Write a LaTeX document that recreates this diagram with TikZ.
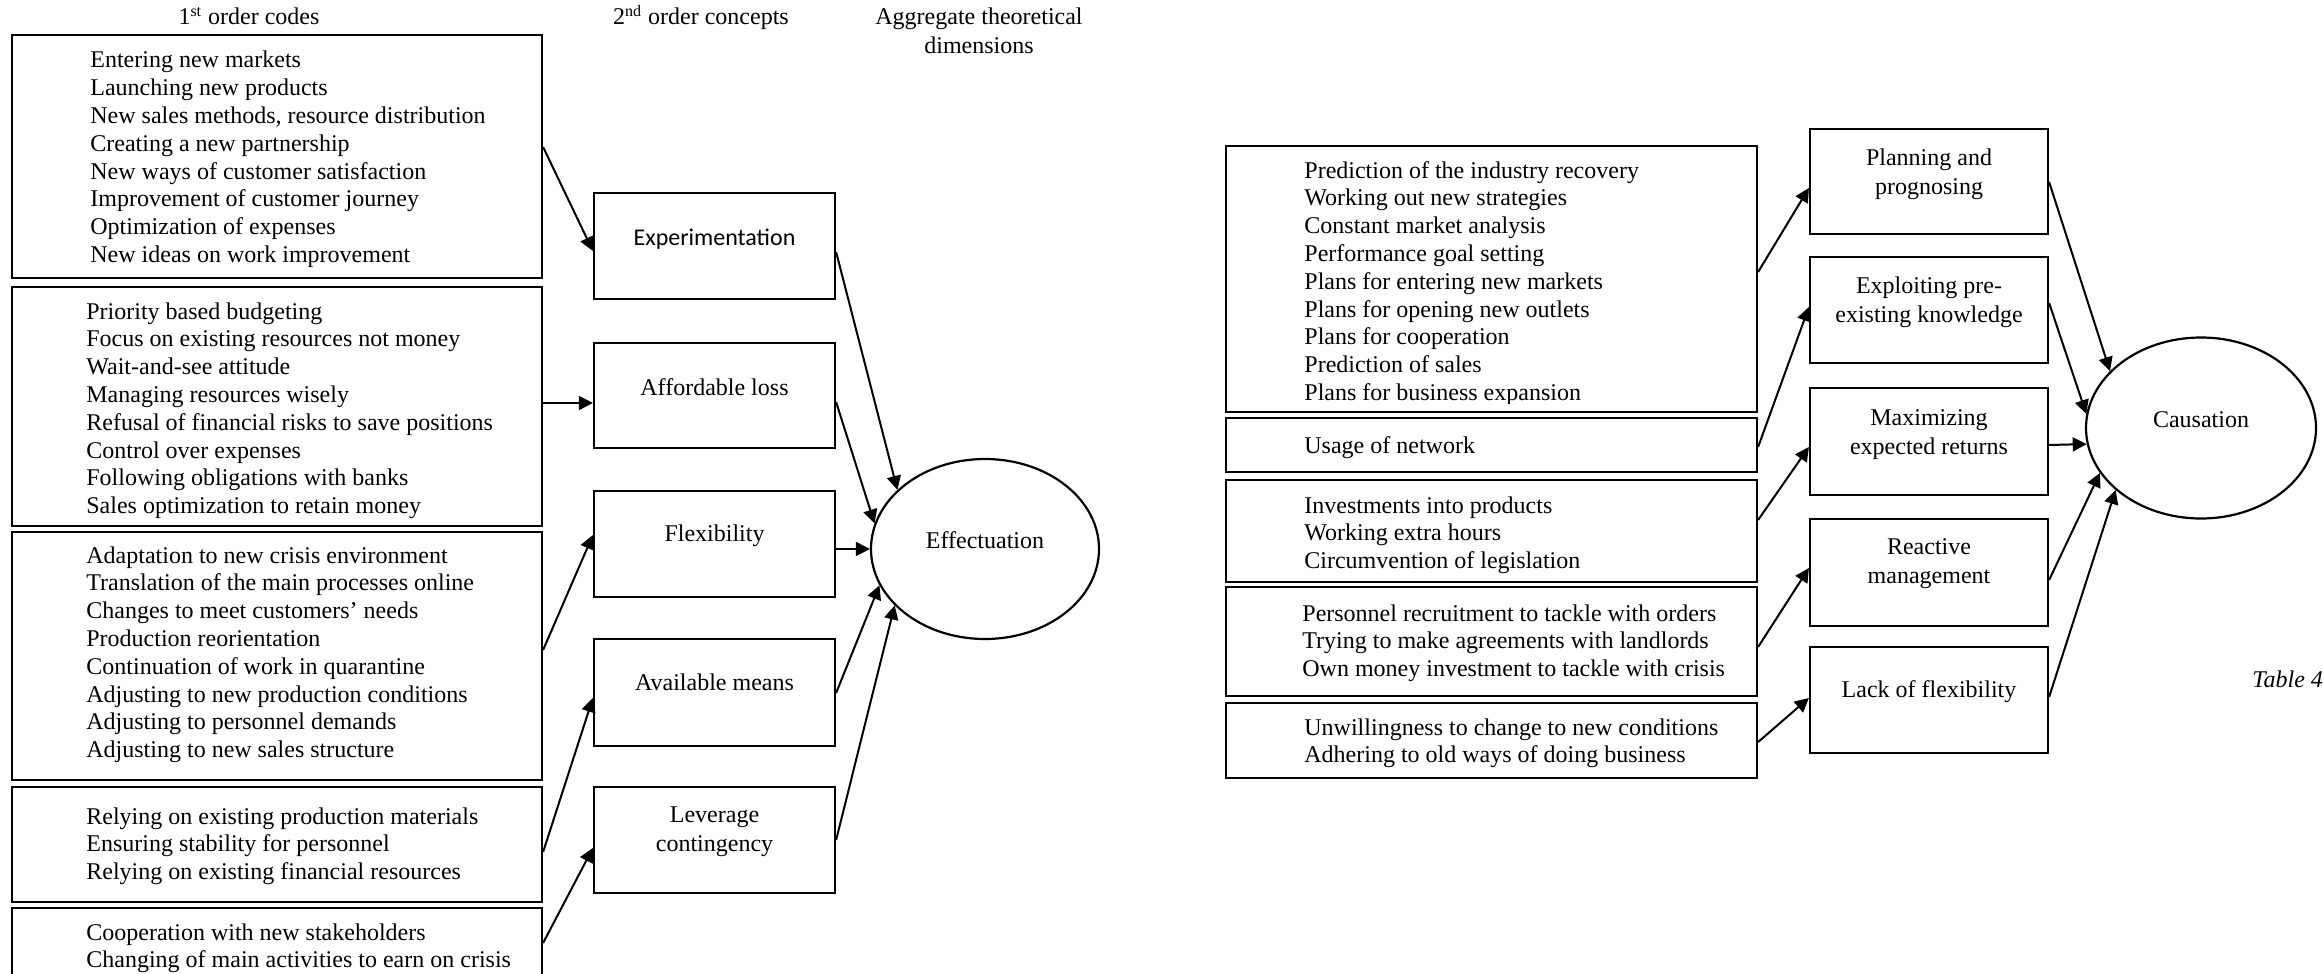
\documentclass[tikz,border=0pt]{standalone}
\usepackage{fontspec}
\setmainfont{Liberation Serif}
\newfontfamily\calib{Carlito}
\usetikzlibrary{arrows.meta,shapes.geometric,fit}
\newcommand{\firstlines}[1]{\parbox[t]{300pt}{\raggedright #1}}
\newcommand{\conclines}[1]{\parbox[t]{118pt}{\centering #1}}
\tikzset{
  box/.style={draw, line width=1.1pt, inner sep=0pt, rectangle},
  oval/.style={draw, line width=1.1pt, ellipse, inner sep=0pt},
  conn/.style={line width=1pt, -{Triangle[length=7pt,width=7pt]}},
  txt/.style={anchor=base west, inner sep=0pt, font=\fontsize{12}{13.9}\selectfont},
  ctxt/.style={anchor=base, inner sep=0pt, font=\fontsize{12}{14.8}\selectfont},
  head/.style={anchor=base, inner sep=0pt, font=\fontsize{12}{14.5}\selectfont},
}
\begin{document}
\begin{tikzpicture}[x=0.5pt,y=-0.5pt]
\useasboundingbox (0,0) rectangle (2323,974);
\clip (0,0) rectangle (2323,974);

% headers
\node[head] (h1) at (249,25) {1\textsuperscript{st} order codes};
\node[head] (h2) at (701,25) {2\textsuperscript{nd} order concepts};
\node[head] (h3) at (979,25) {\conclines{Aggregate theoretical\\dimensions}};

% ---------- left: first order boxes
\node[box, fit={(12,35) (542,278)}] (b1) {};
\node[box, fit={(12,287) (542,526)}] (b2) {};
\node[box, fit={(12,532) (542,780)}] (b3) {};
\node[box, fit={(12,787) (542,902)}] (b4) {};
\node[box, fit={(12,908) (542,1010)}] (b5) {};

\node[txt] (t1) at (90,68) {\firstlines{Entering new markets\\Launching new products\\New sales methods, resource distribution\\Creating a new partnership\\New ways of customer satisfaction\\Improvement of customer journey\\Optimization of expenses\\New ideas on work improvement}};
\begin{scope}
\clip ([yshift=4.5pt]b2.south west) rectangle (b2.north east);
\node[txt] (t2) at (86,319) {\firstlines{Priority based budgeting\\Focus on existing resources not money\\Wait-and-see attitude\\Managing resources wisely\\Refusal of financial risks to save positions\\Control over expenses\\Following obligations with banks\\Sales optimization to retain money}};
\end{scope}
\node[txt] (t3) at (86,563) {\firstlines{Adaptation to new crisis environment\\Translation of the main processes online\\Changes to meet customers’ needs\\Production reorientation\\Continuation of work in quarantine\\Adjusting to new production conditions\\Adjusting to personnel demands\\Adjusting to new sales structure}};
\node[txt] (t4) at (86,824) {\firstlines{Relying on existing production materials\\Ensuring stability for personnel\\Relying on existing financial resources}};
\node[txt] (t5) at (86,940) {\firstlines{Cooperation with new stakeholders\\Changing of main activities to earn on crisis}};

% ---------- left: concepts
\node[box, fit={(594,193) (835,299)}] (exp) {};
\node[box, fit={(594,343) (835,448)}] (aff) {};
\node[box, fit={(594,491) (835,597)}] (flex) {};
\node[box, fit={(594,639) (835,746)}] (avail) {};
\node[box, fit={(594,787) (835,893)}] (lev) {};

\node[ctxt, font=\calib\fontsize{12}{14.8}\selectfont] (texp) at (714.5,245) {Experimentation};
\node[ctxt] (taff) at (714.5,395) {Affordable loss};
\node[ctxt] (tflex) at (714.5,541) {Flexibility};
\node[ctxt] (tavail) at (714.5,690) {Available means};
\node[ctxt] (tlev) at (714.5,822) {\conclines{Leverage\\contingency}};

\node[oval, minimum width=114pt, minimum height=90pt] (eff) at (985,549) {};
\node[ctxt] (teff) at (985,548) {Effectuation};

% arrows left
\draw[conn] (b1.east |- 0,147) -- (exp.west |- 0,251);
\draw[conn] (b2.east |- 0,403) -- (aff.west |- 0,403);
\draw[conn] (b3.east |- 0,650) -- (flex.west |- 0,535);
\draw[conn] (b4.east |- 0,852) -- (avail.west |- 0,698);
\draw[conn] (b5.east |- 0,943) -- (lev.west |- 0,848);

\draw[conn] (exp.east |- 0,252) -- (eff.146);
\draw[conn] (aff.east |- 0,402) -- (eff.167);
\draw[conn] (flex.east |- 0,549) -- (eff.west);
\draw[conn] (avail.east |- 0,693) -- (eff.199);
\draw[conn] (lev.east |- 0,840) -- (eff.212.5);

% ---------- right: first order boxes
\node[box, fit={(1226,146) (1757,412)}] (r1) {};
\node[box, fit={(1226,418) (1757,472)}] (r2) {};
\node[box, fit={(1226,480) (1757,582)}] (r3) {};
\node[box, fit={(1226,587) (1757,696)}] (r4) {};
\node[box, fit={(1226,703) (1757,778)}] (r5) {};

\begin{scope}
\clip ([yshift=5pt]r1.south west) rectangle (r1.north east);
\node[txt] (tr1) at (1304,178) {\firstlines{Prediction of the industry recovery\\Working out new strategies\\Constant market analysis\\Performance goal setting\\Plans for entering new markets\\Plans for opening new outlets\\Plans for cooperation\\Prediction of sales\\Plans for business expansion}};
\end{scope}
\node[txt] (tr2) at (1304,453) {Usage of network};
\node[txt] (tr3) at (1304,513) {\firstlines{Investments into products\\Working extra hours\\Circumvention of legislation}};
\node[txt] (tr4) at (1302,621) {\firstlines{Personnel recruitment to tackle with orders\\Trying to make agreements with landlords\\Own money investment to tackle with crisis}};
\node[txt] (tr5) at (1304,735) {\firstlines{Unwillingness to change to new conditions\\Adhering to old ways of doing business}};

% ---------- right: concepts
\node[box, fit={(1810,129) (2048,234)}] (rc1) {};
\node[box, fit={(1810,257) (2048,363)}] (rc2) {};
\node[box, fit={(1810,388) (2048,495)}] (rc3) {};
\node[box, fit={(1810,519) (2048,626)}] (rc4) {};
\node[box, fit={(1810,647) (2048,753)}] (rc5) {};

\node[ctxt] (trc1) at (1929,165) {\conclines{Planning and\\prognosing}};
\node[ctxt] (trc2) at (1929,293) {\conclines{Exploiting pre-\\existing knowledge}};
\node[ctxt] (trc3) at (1929,425) {\conclines{Maximizing\\expected returns}};
\node[ctxt] (trc4) at (1929,554) {\conclines{Reactive\\management}};
\node[ctxt] (trc5) at (1929,697) {Lack of flexibility};

\node[oval, minimum width=115pt, minimum height=90.5pt] (cau) at (2201,428) {};
\node[ctxt] (tcau) at (2201,427) {Causation};

% arrows right
\draw[conn] (r1.east |- 0,272) -- (rc1.west |- 0,188);
\draw[conn] (r2.east |- 0,447) -- (rc2.west |- 0,307);
\draw[conn] (r3.east |- 0,520) -- (rc3.west |- 0,447);
\draw[conn] (r4.east |- 0,647) -- (rc4.west |- 0,568);
\draw[conn] (r5.east |- 0,742) -- (rc5.west |- 0,698);

\draw[conn] (rc1.east |- 0,182) -- (cau.148);
\draw[conn] (rc2.east |- 0,303) -- (cau.173);
\draw[conn] (rc3.east |- 0,445) -- (cau.188.6);
\draw[conn] (rc4.east |- 0,580) -- (cau.204);
\draw[conn] (rc5.east |- 0,697) -- (cau.216.7);

\node[anchor=base west, inner sep=0pt, font=\itshape\fontsize{12}{14}\selectfont] (tab) at (2252,687) {Table 4};
\end{tikzpicture}
\end{document}
